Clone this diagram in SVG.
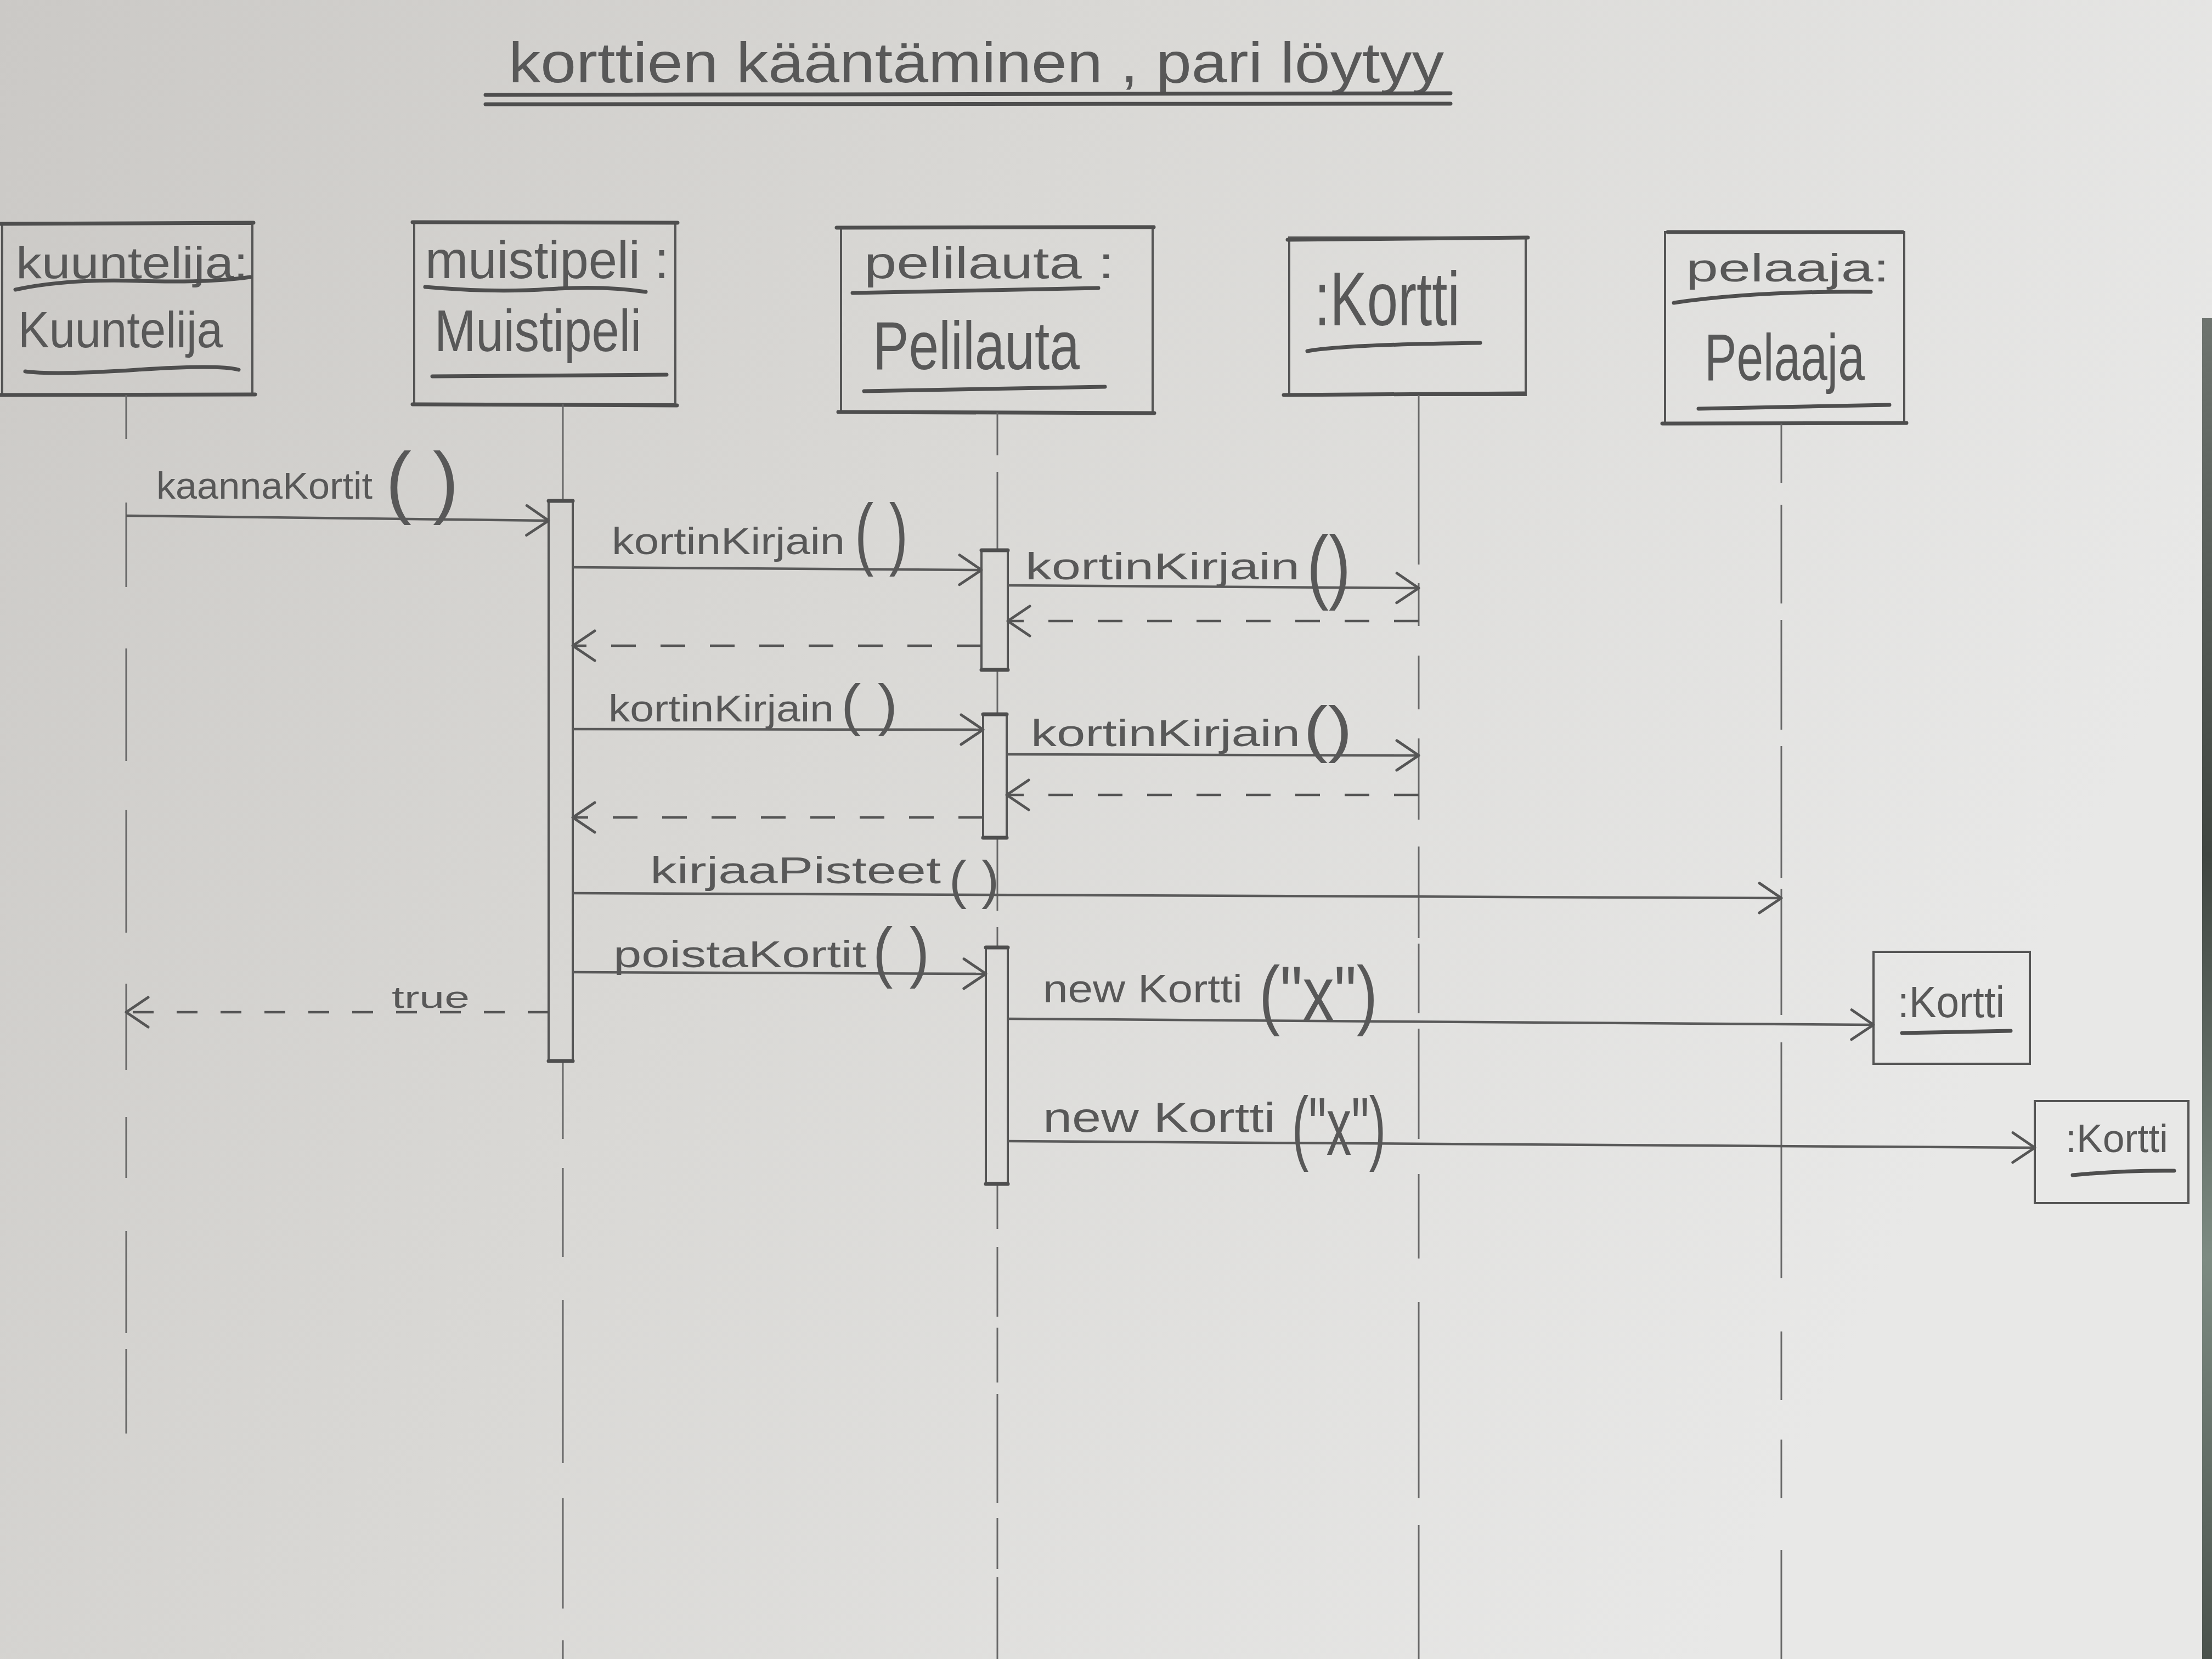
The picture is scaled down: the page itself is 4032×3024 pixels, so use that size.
<svg xmlns="http://www.w3.org/2000/svg" width="4032" height="3024" viewBox="0 0 4032 3024">
<defs>
<linearGradient id="paper" x1="0" y1="0" x2="1" y2="0.35">
<stop offset="0" stop-color="#cbc9c6"/>
<stop offset="0.45" stop-color="#d9d8d5"/>
<stop offset="1" stop-color="#e8e8e7"/>
</linearGradient>
<linearGradient id="edge" x1="0" y1="0" x2="0" y2="1">
<stop offset="0" stop-color="#6e746f"/>
<stop offset="0.4" stop-color="#3f4540"/>
<stop offset="0.7" stop-color="#7d8b82"/>
<stop offset="1" stop-color="#4a524c"/>
</linearGradient>
<marker id="arr" markerUnits="userSpaceOnUse" markerWidth="52" markerHeight="70" viewBox="0 0 52 70" refX="46" refY="35" orient="auto">
<path d="M6,8 L46,35 L6,62" fill="none" stroke="#555" stroke-width="5" stroke-linecap="round" stroke-linejoin="round"/>
</marker>
</defs>
<style>
.box{fill:none;stroke:#555;stroke-width:4}
.edge{fill:none;stroke:#4e4e4e;stroke-width:7;stroke-linecap:round}
.ul{fill:none;stroke:#4e4e4e;stroke-width:7;stroke-linecap:round}
.life{fill:none;stroke:#686868;stroke-width:3}
.act{fill:none;stroke:#555;stroke-width:4}
.msg{fill:none;stroke:#5a5a5a;stroke-width:4.5;marker-end:url(#arr)}
.ret{fill:none;stroke:#555;stroke-width:4.5;stroke-dasharray:45 45;marker-end:url(#arr)}
.t{font-family:"Liberation Sans","DejaVu Sans",sans-serif;fill:#585858}
</style>
<rect x="0" y="0" width="4032" height="3024" fill="url(#paper)"/>
<rect x="4014" y="580" width="18" height="2444" fill="url(#edge)"/>

<g id="title">
<text class="t" x="927" y="150" font-size="104" textLength="1705" lengthAdjust="spacingAndGlyphs">korttien kääntäminen , pari löytyy</text>
<path class="ul" d="M885 173 L2644 170"/>
<path class="ul" d="M885 190 L2644 189"/>
</g>

<g id="node-kuuntelija">
<rect class="box" x="4" y="408" width="456" height="312"/>
<path class="edge" d="M0 408 L462 406 M0 720 L465 719"/>
<text class="t" x="29" y="507" font-size="82" textLength="423" lengthAdjust="spacingAndGlyphs">kuuntelija:</text>
<path class="ul" d="M28 528 Q 120 508 250 512 T 456 505"/>
<text class="t" x="33" y="633" font-size="92" textLength="373" lengthAdjust="spacingAndGlyphs">Kuuntelija</text>
<path class="ul" d="M46 677 Q 100 684 250 674 T 435 674"/>
<path class="life" d="M230 720 V800 M230 916 V1070 M230 1182 V1387 M230 1476 V1700 M230 1793 V1950 M230 2036 V2147 M230 2244 V2430 M230 2459 V2613"/>
</g>

<g id="node-muistipeli">
<rect class="box" x="755" y="405" width="476" height="332"/>
<path class="edge" d="M752 405 L1235 406 M752 737 L1234 739"/>
<text class="t" x="775" y="507" font-size="96" textLength="444" lengthAdjust="spacingAndGlyphs">muistipeli :</text>
<path class="ul" d="M775 523 Q 900 534 1000 527 T 1177 532"/>
<text class="t" x="792" y="640" font-size="107" textLength="377" lengthAdjust="spacingAndGlyphs">Muistipeli</text>
<path class="ul" d="M788 686 L1215 683"/>
<path class="life" d="M1026 737 V913 M1026 1934 V2076 M1026 2129 V2291 M1026 2370 V2667 M1026 2731 V2932 M1026 2990 V3024"/>
<rect class="act" x="1000" y="913" width="44" height="1021"/>
<path class="edge" d="M1000 913 L1044 913 M1000 1934 L1044 1934"/>
</g>

<g id="node-pelilauta">
<rect class="box" x="1533" y="415" width="568" height="337"/>
<path class="edge" d="M1525 415 L2103 414 M1528 751 L2104 753"/>
<text class="t" x="1575" y="507" font-size="82" textLength="456" lengthAdjust="spacingAndGlyphs">pelilauta :</text>
<path class="ul" d="M1554 534 L2002 525"/>
<text class="t" x="1591" y="673" font-size="125" textLength="377" lengthAdjust="spacingAndGlyphs">Pelilauta</text>
<path class="ul" d="M1575 713 L2014 705"/>
<path class="life" d="M1818 752 V830 M1818 860 V1003 M1818 1221 V1302 M1818 1527 V1660 M1818 1690 V1727 M1818 2158 V2240 M1818 2273 V2400 M1818 2420 V2520 M1818 2541 V2740 M1818 2767 V2860 M1818 2875 V3024"/>
<rect class="act" x="1789" y="1003" width="48" height="218"/>
<rect class="act" x="1792" y="1302" width="43" height="225"/>
<rect class="act" x="1797" y="1727" width="40" height="431"/>
<path class="edge" d="M1789 1003 L1837 1003 M1789 1221 L1837 1221 M1792 1302 L1835 1302 M1792 1527 L1835 1527 M1797 1727 L1837 1727 M1797 2158 L1837 2158"/>
</g>

<g id="node-kortti">
<rect class="box" x="2350" y="433" width="431" height="287"/>
<path class="edge" d="M2347 437 L2785 433 M2340 720 L2778 717"/>
<text class="t" x="2396" y="593" font-size="140" textLength="265" lengthAdjust="spacingAndGlyphs">:Kortti</text>
<path class="ul" d="M2383 640 Q 2450 628 2698 625"/>
<path class="life" d="M2586 720 V1029 M2586 1063 V1141 M2586 1195 V1293 M2586 1346 V1494 M2586 1543 V1710 M2586 1720 V1847 M2586 1875 V2076 M2586 2140 V2294 M2586 2373 V2731 M2586 2780 V3024"/>
</g>

<g id="node-pelaaja">
<rect class="box" x="3035" y="423" width="436" height="349"/>
<path class="edge" d="M3040 423 L3468 423 M3030 772 L3475 771"/>
<text class="t" x="3073" y="513" font-size="72" textLength="371" lengthAdjust="spacingAndGlyphs">pelaaja:</text>
<path class="ul" d="M3051 552 Q 3200 530 3410 532"/>
<text class="t" x="3107" y="693" font-size="120" textLength="292" lengthAdjust="spacingAndGlyphs">Pelaaja</text>
<path class="ul" d="M3096 745 L3444 738"/>
<path class="life" d="M3247 772 V880 M3247 920 V1100 M3247 1130 V1330 M3247 1360 V1600 M3247 1620 V1850 M3247 1900 V2330 M3247 2427 V2552 M3247 2624 V2731 M3247 2825 V3024"/>
</g>

<g id="node-kortti-new1">
<rect class="box" x="3415" y="1735" width="285" height="204"/>
<text class="t" x="3459" y="1854" font-size="80" textLength="195" lengthAdjust="spacingAndGlyphs">:Kortti</text>
<path class="ul" d="M3467 1883 L3665 1879"/>
</g>

<g id="node-kortti-new2">
<rect class="box" x="3709" y="2007" width="280" height="186"/>
<text class="t" x="3765" y="2100" font-size="72" textLength="187" lengthAdjust="spacingAndGlyphs">:Kortti</text>
<path class="ul" d="M3778 2142 Q 3870 2133 3963 2134"/>
</g>

<g id="connectors">
<path class="msg" d="M230 940 L1000 949"/>
<text class="t" x="285" y="909" font-size="68"><tspan textLength="394" lengthAdjust="spacingAndGlyphs">kaannaKortit</tspan><tspan x="703" y="927" font-size="147" textLength="133" lengthAdjust="spacingAndGlyphs">( )</tspan></text>

<path class="msg" d="M1044 1034 L1789 1039"/>
<text class="t" x="1115" y="1010" font-size="68"><tspan textLength="425" lengthAdjust="spacingAndGlyphs">kortinKirjain</tspan><tspan x="1558" y="1021" font-size="147" textLength="97" lengthAdjust="spacingAndGlyphs">( )</tspan></text>

<path class="msg" d="M1837 1067 L2586 1072"/>
<text class="t" x="1869" y="1056" font-size="68"><tspan textLength="500" lengthAdjust="spacingAndGlyphs">kortinKirjain</tspan><tspan x="2382" y="1082" font-size="150" textLength="80" lengthAdjust="spacingAndGlyphs">()</tspan></text>
<path class="ret" d="M2586 1132 L1837 1132"/>
<path class="ret" d="M1789 1177 L1044 1177"/>

<path class="msg" d="M1044 1329 L1792 1330"/>
<text class="t" x="1109" y="1315" font-size="68"><tspan textLength="411" lengthAdjust="spacingAndGlyphs">kortinKirjain</tspan><tspan x="1533" y="1320" font-size="104" textLength="103" lengthAdjust="spacingAndGlyphs">( )</tspan></text>

<path class="msg" d="M1835 1375 L2586 1377"/>
<text class="t" x="1879" y="1360" font-size="68"><tspan textLength="491" lengthAdjust="spacingAndGlyphs">kortinKirjain</tspan><tspan x="2376" y="1367" font-size="114" textLength="89" lengthAdjust="spacingAndGlyphs">()</tspan></text>
<path class="ret" d="M2586 1449 L1835 1449"/>
<path class="ret" d="M1792 1490 L1044 1490"/>

<path class="msg" d="M1044 1628 L3247 1637"/>
<text class="t" x="1185" y="1610" font-size="68"><tspan textLength="530" lengthAdjust="spacingAndGlyphs">kirjaaPisteet</tspan><tspan x="1730" y="1637" font-size="96" textLength="91" lengthAdjust="spacingAndGlyphs">( )</tspan></text>

<path class="msg" d="M1044 1772 L1797 1775"/>
<text class="t" x="1118" y="1763" font-size="68"><tspan textLength="461" lengthAdjust="spacingAndGlyphs">poistaKortit</tspan><tspan x="1591" y="1777" font-size="123" textLength="103" lengthAdjust="spacingAndGlyphs">( )</tspan></text>

<path class="ret" style="stroke-dasharray:38 42" d="M1000 1845 L230 1845"/>
<text class="t" x="714" y="1837" font-size="55" textLength="142" lengthAdjust="spacingAndGlyphs">true</text>

<path class="msg" d="M1837 1857 L3415 1868"/>
<text class="t" x="1901" y="1827" font-size="72"><tspan textLength="364" lengthAdjust="spacingAndGlyphs">new Kortti</tspan><tspan x="2295" y="1860" font-size="141" textLength="216" lengthAdjust="spacingAndGlyphs">("x")</tspan></text>

<path class="msg" d="M1837 2080 L3709 2092"/>
<text class="t" x="1901" y="2063" font-size="76"><tspan textLength="424" lengthAdjust="spacingAndGlyphs">new Kortti</tspan><tspan x="2355" y="2105" font-size="150" textLength="171" lengthAdjust="spacingAndGlyphs">("x")</tspan></text>
</g>
</svg>
